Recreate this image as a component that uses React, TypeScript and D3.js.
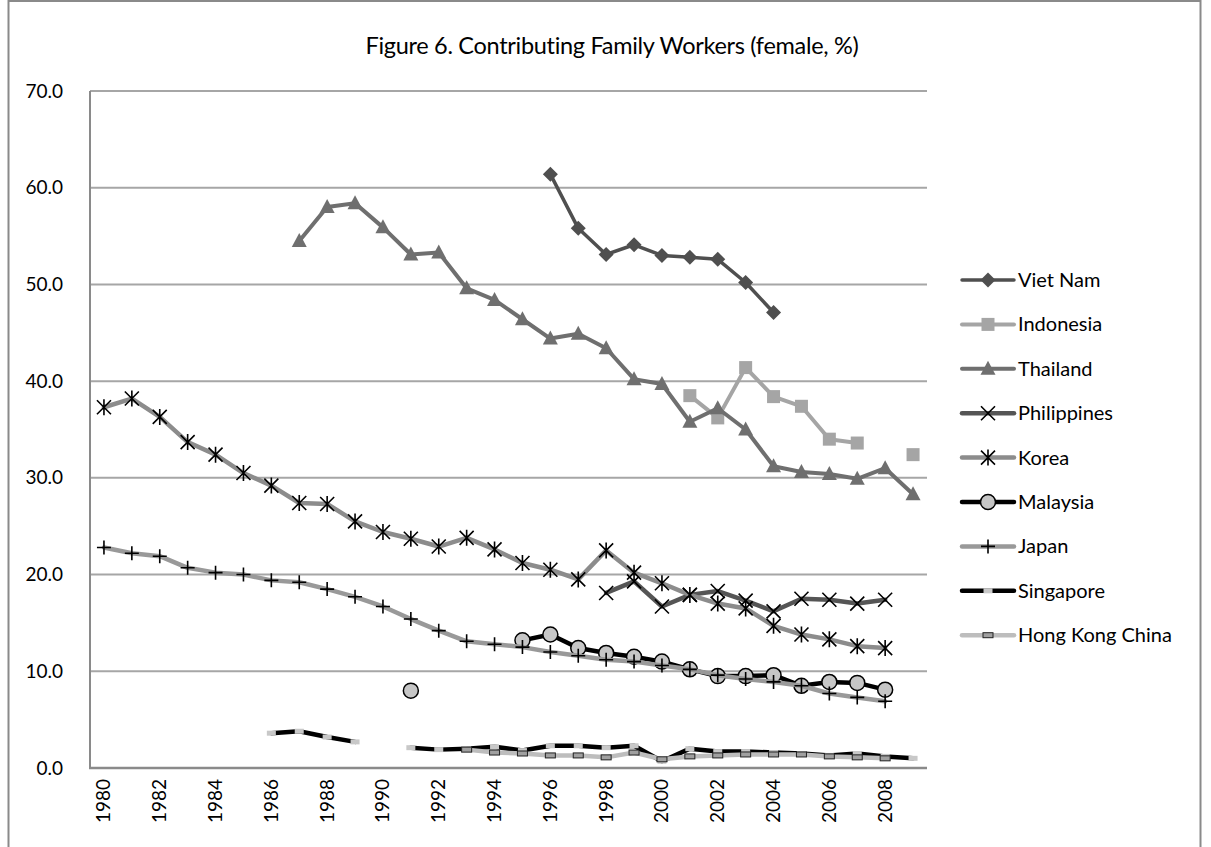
import React from "react";
import * as d3 from "d3";

const years = [
  1980, 1981, 1982, 1983, 1984, 1985, 1986, 1987, 1988, 1989,
  1990, 1991, 1992, 1993, 1994, 1995, 1996, 1997, 1998, 1999,
  2000, 2001, 2002, 2003, 2004, 2005, 2006, 2007, 2008, 2009,
];
const xTickYears = [1980, 1982, 1984, 1986, 1988, 1990, 1992, 1994, 1996, 1998, 2000, 2002, 2004, 2006, 2008];
const yTicks = [0, 10, 20, 30, 40, 50, 60, 70];

const _ = null;
const vietNam = [_, _, _, _, _, _, _, _, _, _, _, _, _, _, _, _, 61.4, 55.8, 53.1, 54.1, 53.0, 52.8, 52.6, 50.2, 47.1, _, _, _, _, _];
const indonesia = [_, _, _, _, _, _, _, _, _, _, _, _, _, _, _, _, _, _, _, _, _, 38.5, 36.2, 41.4, 38.4, 37.4, 34.0, 33.6, _, 32.4];
const thailand = [_, _, _, _, _, _, _, 54.5, 58.0, 58.4, 55.9, 53.1, 53.3, 49.6, 48.4, 46.4, 44.4, 44.9, 43.4, 40.2, 39.7, 35.8, 37.2, 35.0, 31.2, 30.6, 30.4, 29.9, 31.0, 28.3];
const philippines = [_, _, _, _, _, _, _, _, _, _, _, _, _, _, _, _, _, _, 18.1, 19.3, 16.7, 17.9, 18.3, 17.3, 16.2, 17.5, 17.4, 17.0, 17.4, _];
const korea = [37.3, 38.2, 36.3, 33.7, 32.4, 30.5, 29.2, 27.4, 27.3, 25.5, 24.4, 23.7, 22.9, 23.8, 22.6, 21.2, 20.5, 19.5, 22.5, 20.2, 19.1, 17.9, 17.0, 16.5, 14.7, 13.8, 13.3, 12.6, 12.4, _];
const malaysia = [_, _, _, _, _, _, _, _, _, _, _, 8.0, _, _, _, 13.2, 13.8, 12.4, 11.9, 11.5, 11.0, 10.2, 9.5, 9.5, 9.6, 8.5, 8.9, 8.8, 8.1, _];
const japan = [22.8, 22.2, 21.9, 20.7, 20.2, 20.0, 19.4, 19.2, 18.5, 17.7, 16.7, 15.4, 14.2, 13.1, 12.8, 12.5, 12.0, 11.6, 11.2, 11.0, 10.6, 10.2, 9.6, 9.2, 8.9, 8.5, 7.7, 7.3, 6.9, _];
const singapore = [_, _, _, _, _, _, 3.6, 3.8, 3.2, 2.7, _, 2.1, 1.9, 2.0, 2.2, 1.8, 2.3, 2.3, 2.1, 2.3, 0.7, 2.0, 1.7, 1.7, 1.6, 1.5, 1.3, 1.5, 1.2, 1.0];
const hongKong = [_, _, _, _, _, _, _, _, _, _, _, _, _, 1.9, 1.6, 1.5, 1.3, 1.3, 1.1, 1.6, 0.9, 1.2, 1.3, 1.4, 1.4, 1.4, 1.2, 1.1, 1.0, _];

type MarkerType = "diamond" | "square" | "triangle" | "x" | "star" | "circle" | "plus" | "bar" | "barBordered";

interface Series {
  name: string;
  values: (number | null)[];
  color: string;
  width: number;
  marker: MarkerType;
}

const seriesList: Series[] = [
  { name: "Viet Nam", values: vietNam, color: "#4f4f4f", width: 3.5, marker: "diamond" },
  { name: "Indonesia", values: indonesia, color: "#a5a5a5", width: 4, marker: "square" },
  { name: "Thailand", values: thailand, color: "#6f6f6f", width: 4, marker: "triangle" },
  { name: "Philippines", values: philippines, color: "#555555", width: 4.5, marker: "x" },
  { name: "Korea", values: korea, color: "#8c8c8c", width: 4.5, marker: "star" },
  { name: "Malaysia", values: malaysia, color: "#000000", width: 4.5, marker: "circle" },
  { name: "Japan", values: japan, color: "#999999", width: 4.5, marker: "plus" },
  { name: "Singapore", values: singapore, color: "#000000", width: 4.5, marker: "bar" },
  { name: "Hong Kong China", values: hongKong, color: "#bdbdbd", width: 4.5, marker: "barBordered" },
];

const FONT = "Lato, 'Open Sans', sans-serif";

function Marker({ type, x, y, color }: { type: MarkerType; x: number; y: number; color: string }) {
  switch (type) {
    case "diamond":
      return <path d={`M${x},${y - 7.5}L${x + 7.5},${y}L${x},${y + 7.5}L${x - 7.5},${y}Z`} fill={color} />;
    case "square":
      return <rect x={x - 6.5} y={y - 6.5} width={13} height={13} fill={color} />;
    case "triangle":
      return <path d={`M${x},${y - 8}L${x + 7.5},${y + 6}L${x - 7.5},${y + 6}Z`} fill={color} />;
    case "x":
      return (
        <path d={`M${x - 7},${y - 7}L${x + 7},${y + 7}M${x - 7},${y + 7}L${x + 7},${y - 7}`} stroke="#000" strokeWidth={1.6} fill="none" />
      );
    case "star":
      return (
        <path
          d={`M${x - 7},${y - 7}L${x + 7},${y + 7}M${x - 7},${y + 7}L${x + 7},${y - 7}M${x},${y - 8}L${x},${y + 8}`}
          stroke="#000"
          strokeWidth={1.6}
          fill="none"
        />
      );
    case "circle":
      return <circle cx={x} cy={y} r={7.5} fill="#c6c6c6" stroke="#000" strokeWidth={1.5} />;
    case "plus":
      return <path d={`M${x - 7},${y}L${x + 7},${y}M${x},${y - 7}L${x},${y + 7}`} stroke="#000" strokeWidth={1.6} fill="none" />;
    case "bar":
      return <rect x={x - 4.5} y={y - 2.5} width={9} height={5} fill="#c8c8c8" />;
    case "barBordered":
      return <rect x={x - 5} y={y - 2.5} width={10} height={5} fill="#a0a0a0" stroke="#222" strokeWidth={1} />;
  }
  return null;
}

export default function App() {
  const W = 1211;
  const H = 847;
  const plotLeft = 90;
  const plotRight = 927;
  const plotTop = 91;
  const plotBottom = 768;

  const x = d3.scaleBand<number>().domain(years).range([plotLeft, plotRight]).paddingInner(0).paddingOuter(0);
  const y = d3.scaleLinear().domain([0, 70]).range([plotBottom, plotTop]);
  const cx = (yr: number) => (x(yr) as number) + x.bandwidth() / 2;

  const legendX = 962;
  const legendY0 = 280;
  const legendStep = 44.4;

  return (
    <svg width={W} height={H} style={{ position: "absolute", left: 0, top: 0, background: "#fff" }} fontFamily={FONT}>
      <rect x={0} y={0} width={W} height={H} fill="#fff" />
      <rect x={8.5} y={1} width={1192} height={900} fill="none" stroke="#8a8a8a" strokeWidth={2} />
      <text x={612} y={54} textAnchor="middle" fontSize={23.5} fill="#000" letterSpacing={-0.3}>
        Figure 6. Contributing Family Workers (female, %)
      </text>

      {/* gridlines */}
      {yTicks.filter((t) => t > 0).map((t) => (
        <line key={t} x1={plotLeft} x2={plotRight} y1={y(t)} y2={y(t)} stroke="#a6a6a6" strokeWidth={2} />
      ))}
      {/* axes */}
      <line x1={plotLeft} x2={plotLeft} y1={plotTop} y2={plotBottom} stroke="#8a8a8a" strokeWidth={2} />
      <line x1={plotLeft - 1} x2={plotRight} y1={plotBottom} y2={plotBottom} stroke="#8a8a8a" strokeWidth={2.5} />

      {yTicks.map((t) => (
        <text key={t} x={63} y={y(t) + 6.5} textAnchor="end" fontSize={19} fill="#000">
          {d3.format(".1f")(t)}
        </text>
      ))}
      {xTickYears.map((yr) => (
        <text
          key={yr}
          transform={`translate(${cx(yr) + 6.5},${plotBottom + 11}) rotate(-90)`}
          textAnchor="end"
          fontSize={19}
          fill="#000"
        >
          {yr}
        </text>
      ))}

      {seriesList.map((s) => {
        const pts = years.map((yr, i) => ({ yr, v: s.values[i] }));
        const line = d3
          .line<{ yr: number; v: number | null }>()
          .defined((d) => d.v != null)
          .x((d) => cx(d.yr))
          .y((d) => y(d.v as number));
        return (
          <g key={s.name}>
            <path d={line(pts) || ""} fill="none" stroke={s.color} strokeWidth={s.width} strokeLinejoin="round" strokeLinecap="round" />
            {pts
              .filter((d) => d.v != null)
              .map((d) => (
                <Marker key={d.yr} type={s.marker} x={cx(d.yr)} y={y(d.v as number)} color={s.color} />
              ))}
          </g>
        );
      })}

      {/* legend */}
      {seriesList.map((s, i) => {
        const ly = legendY0 + i * legendStep;
        return (
          <g key={s.name}>
            <line x1={legendX} x2={legendX + 52} y1={ly} y2={ly} stroke={s.color} strokeWidth={s.width} strokeLinecap="round" />
            <Marker type={s.marker} x={legendX + 26} y={ly} color={s.color} />
            <text x={legendX + 56} y={ly + 7} fontSize={20} fill="#000">
              {s.name}
            </text>
          </g>
        );
      })}
    </svg>
  );
}
